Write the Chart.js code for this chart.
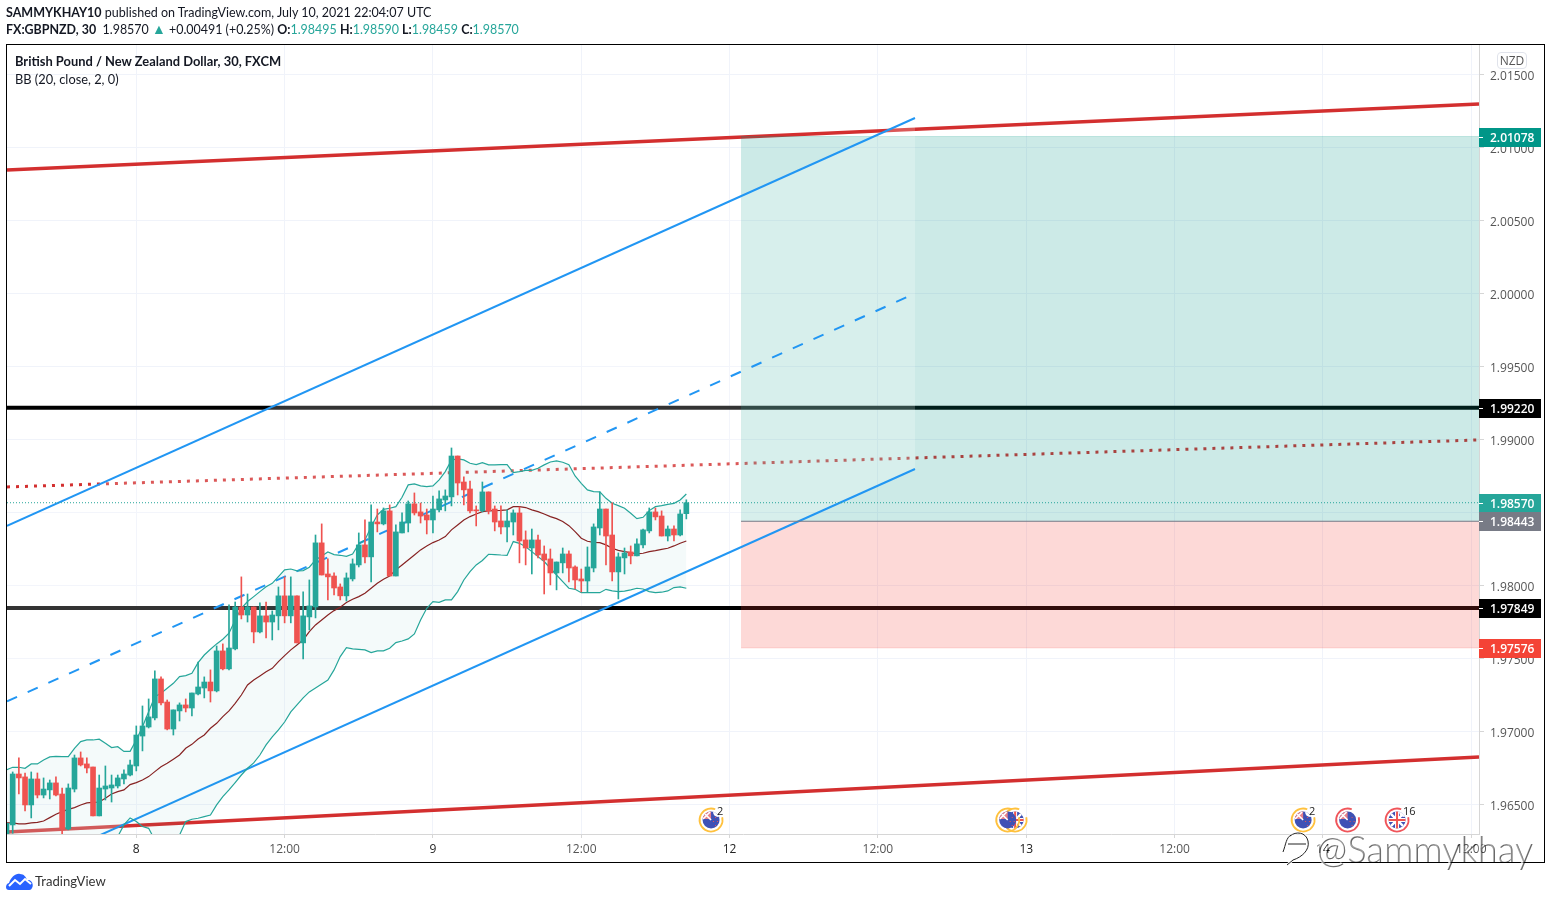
<!DOCTYPE html>
<html>
<head>
<meta charset="utf-8">
<title>GBPNZD 30</title>
<script src="https://cdn.jsdelivr.net/npm/chart.js@4/dist/chart.umd.min.js"></script>
<style>
    html, body { margin: 0; background: #fff; width: 1551px; height: 900px; overflow: hidden; }
    body { font-family: Lato, sans-serif; color: #131722; position: relative; }
    canvas { position: absolute; left: 0; top: 0; }
    .abs { position: absolute; white-space: nowrap; }
    .frame { left: 6px; top: 44px; width: 1537px; height: 817px; border: 1px solid #000; pointer-events: none; }
    .up { color: #26a69a; }
    b { font-weight: 700; }
    .nzd { left: 1497px; top: 52px; width: 28px; height: 15px; border: 1px solid #e0e3eb; border-radius: 4px; font: 12px/15px "Open Sans", sans-serif; color: #555; text-align: center; }
    .mark { left: 1316px; top: 825px; font: 300 36.4px/46px Lato, sans-serif; color: rgba(255,255,255,.35);
            text-shadow: 1px 1px 0 rgba(0,0,0,.6), -1px 0 0 rgba(255,255,255,.7); }
</style>
</head>
<body>
<canvas id="chart" width="1551" height="900"></canvas>
<div class="abs frame"></div>
<div class="abs" style="left:6px;top:5px;font-size:12.5px;line-height:16px"><b>SAMMYKHAY10</b> published on TradingView.com, July 10, 2021 22:04:07 UTC</div>
<div class="abs" style="left:6px;top:21px;font-size:12.45px;line-height:16px"><b>FX:GBPNZD, 30</b>&nbsp; 1.98570 <span class="up" style="font-size:14px">▲</span> +0.00491 (+0.25%) <b>O:</b><span class="up">1.98495</span> <b>H:</b><span class="up">1.98590</span> <b>L:</b><span class="up">1.98459</span> <b>C:</b><span class="up">1.98570</span></div>
<div class="abs" style="left:15px;top:53px;font-size:12.9px;line-height:16px;font-weight:700">British Pound / New Zealand Dollar, 30, FXCM</div>
<div class="abs" style="left:15px;top:71px;font-size:12.8px;line-height:16px">BB (20, close, 2, 0)</div>
<div class="abs nzd">NZD</div>
<div class="abs mark">@Sammykhay</div>
<svg class="abs" style="left:1280px;top:830px" width="36" height="40" viewBox="0 0 36 40" fill="none">
    <path d="M10 6 C16 1 26 2 28 11 C30 20 22 27 13 30 M3 22 C6 14 6 8 11 5 M8 14 H26 M13 30 L7 35" stroke="#fff" stroke-width="2.4"/>
    <path d="M10 6 C16 1 26 2 28 11 C30 20 22 27 13 30 M3 22 C6 14 6 8 11 5 M8 14 H26 M13 30 L7 35" stroke="#222" stroke-width="1"/>
</svg>
<svg class="abs" style="left:6px;top:873px" width="27" height="17" viewBox="0 0 27 17">
    <path d="M3 17 C-1 17 -1 11 3 10 C5 4 10 0 14 1 C18 1 20 4 21 7 C26 6 28 12 26 15 C25 17 24 17 22 17 Z" fill="#2962ff"/>
    <path d="M3 13 L9 7 L14 11 L19 6 L25 11" fill="none" stroke="#fff" stroke-width="2"/>
</svg>
<div class="abs" style="left:35px;top:873px;font-size:13.1px;line-height:16px;color:#333">TradingView</div>

<script>
// bar index 0 is the 00:00 bar of the 8th, every bar is 30 minutes
const firstBar = -21;
const opens = [
    1.96300,1.96363,1.96712,1.96692,1.96500,1.96678,1.96568,1.96603,1.96651,1.96575,
    1.96336,1.96609,1.96822,1.96781,1.96760,1.96425,1.96609,1.96616,1.96630,1.96678,
    1.96705,1.96767,1.96972,1.97034,1.97096,1.97363,1.97205,1.97020,1.97144,1.97185,
    1.97164,1.97260,1.97301,1.97342,1.97281,1.97555,1.97432,1.97569,1.97856,1.97801,
    1.97856,1.97685,1.97795,1.97753,1.97795,1.97932,1.97795,1.97932,1.97610,1.97788,
    1.97856,1.98295,1.98082,1.98068,1.97993,1.97932,1.98048,1.98144,1.98281,1.98199,
    1.98438,1.98425,1.98514,1.98068,1.98363,1.98431,1.98562,1.98507,1.98486,1.98452,
    1.98521,1.98589,1.98610,1.98890,1.98712,1.98664,1.98521,1.98514,1.98644,1.98527,
    1.98445,1.98404,1.98438,1.98500,1.98315,1.98260,1.98315,1.98219,1.98185,1.98089,
    1.98158,1.98219,1.98130,1.98048,1.98034,1.98123,1.98397,1.98527,1.98349,1.98096,
    1.98192,1.98233,1.98206,1.98281,1.98377,1.98507,1.98479,1.98342,1.98390,1.98349,1.98495
];
const highs = [
    1.96374,1.96726,1.96822,1.96719,1.96726,1.96719,1.96685,1.96671,1.96692,1.96616,
    1.96644,1.96842,1.96863,1.96822,1.96760,1.96705,1.96767,1.96705,1.96705,1.96740,
    1.96808,1.97041,1.97178,1.97226,1.97418,1.97377,1.97219,1.97151,1.97199,1.97226,
    1.97267,1.97479,1.97377,1.97425,1.97589,1.97603,1.97870,1.97890,1.98062,1.97945,
    1.97856,1.97884,1.97890,1.97829,1.97993,1.98062,1.98062,1.97932,1.97959,1.98041,
    1.98349,1.98425,1.98185,1.98089,1.98014,1.98089,1.98185,1.98363,1.98452,1.98555,
    1.98527,1.98534,1.98555,1.98418,1.98500,1.98582,1.98637,1.98568,1.98527,1.98616,
    1.98651,1.98658,1.98945,1.98890,1.98747,1.98719,1.98548,1.98712,1.98644,1.98548,
    1.98548,1.98521,1.98521,1.98541,1.98377,1.98390,1.98349,1.98274,1.98253,1.98164,
    1.98260,1.98240,1.98137,1.98116,1.98267,1.98425,1.98644,1.98527,1.98569,1.98226,
    1.98260,1.98274,1.98322,1.98390,1.98534,1.98534,1.98514,1.98411,1.98411,1.98521,1.98590
];
const lows = [
    1.96295,1.96306,1.96575,1.96459,1.96411,1.96548,1.96548,1.96541,1.96562,1.96301,
    1.96329,1.96589,1.96767,1.96719,1.96425,1.96425,1.96534,1.96520,1.96616,1.96644,
    1.96699,1.96733,1.96870,1.97027,1.97082,1.97185,1.97014,1.96979,1.97075,1.97137,
    1.97109,1.97253,1.97233,1.97205,1.97274,1.97425,1.97425,1.97562,1.97774,1.97753,
    1.97610,1.97678,1.97644,1.97630,1.97699,1.97747,1.97747,1.97610,1.97500,1.97699,
    1.97781,1.98075,1.97904,1.97938,1.97904,1.97897,1.98034,1.98130,1.98158,1.98027,
    1.98370,1.98418,1.98068,1.98068,1.98363,1.98370,1.98486,1.98431,1.98356,1.98363,
    1.98507,1.98514,1.98548,1.98623,1.98555,1.98500,1.98411,1.98507,1.98493,1.98377,
    1.98356,1.98301,1.98349,1.98158,1.98144,1.98082,1.98192,1.97945,1.98007,1.97973,
    1.98089,1.98027,1.97979,1.97959,1.97959,1.98096,1.98349,1.98144,1.98034,1.97911,
    1.98082,1.98151,1.98206,1.98260,1.98363,1.98452,1.98342,1.98308,1.98308,1.98342,1.98459
];
const closes = [
    1.96374,1.96712,1.96685,1.96500,1.96678,1.96568,1.96609,1.96651,1.96568,1.96336,
    1.96616,1.96822,1.96774,1.96753,1.96425,1.96616,1.96630,1.96637,1.96685,1.96712,
    1.96774,1.96979,1.97041,1.97103,1.97363,1.97199,1.97020,1.97151,1.97185,1.97164,
    1.97267,1.97308,1.97342,1.97281,1.97555,1.97432,1.97575,1.97856,1.97801,1.97856,
    1.97685,1.97795,1.97753,1.97801,1.97932,1.97795,1.97932,1.97610,1.97795,1.97863,
    1.98295,1.98075,1.98062,1.97986,1.97932,1.98055,1.98151,1.98281,1.98199,1.98438,
    1.98425,1.98514,1.98068,1.98370,1.98438,1.98562,1.98500,1.98479,1.98452,1.98527,
    1.98596,1.98616,1.98890,1.98705,1.98658,1.98514,1.98514,1.98644,1.98514,1.98438,
    1.98404,1.98445,1.98500,1.98308,1.98260,1.98315,1.98212,1.98178,1.98089,1.98164,
    1.98219,1.98123,1.98041,1.98034,1.98130,1.98404,1.98527,1.98342,1.98096,1.98199,
    1.98226,1.98206,1.98288,1.98384,1.98507,1.98473,1.98342,1.98390,1.98349,1.98493,1.98570
];

// BB (20, close, 2) read per bar, same start bar as the candles
const bbUpper = [
    1.96740,1.96758,1.96758,1.96751,1.96781,1.96781,1.96808,1.96829,1.96833,1.96831,
    1.96831,1.96888,1.96934,1.96945,1.96945,1.96950,1.96922,1.96893,1.96899,1.96867,
    1.96867,1.96945,1.97036,1.97139,1.97242,1.97265,1.97299,1.97333,1.97379,1.97386,
    1.97402,1.97475,1.97527,1.97566,1.97603,1.97635,1.97676,1.97767,1.97847,1.97893,
    1.97927,1.97961,1.97995,1.98018,1.98064,1.98110,1.98116,1.98103,1.98105,1.98128,
    1.98178,1.98205,1.98233,1.98215,1.98210,1.98203,1.98219,1.98288,1.98315,1.98406,
    1.98486,1.98525,1.98532,1.98543,1.98607,1.98692,1.98699,1.98685,1.98680,1.98685,
    1.98726,1.98783,1.98863,1.98870,1.98863,1.98840,1.98831,1.98845,1.98829,1.98829,
    1.98831,1.98831,1.98776,1.98783,1.98792,1.98792,1.98806,1.98829,1.98849,1.98856,
    1.98847,1.98831,1.98753,1.98703,1.98658,1.98646,1.98644,1.98600,1.98566,1.98550,
    1.98532,1.98498,1.98461,1.98470,1.98516,1.98543,1.98550,1.98559,1.98566,1.98589,1.98630
];
const bbBasis = [
    1.96377,1.96377,1.96370,1.96370,1.96377,1.96381,1.96390,1.96413,1.96436,1.96454,
    1.96470,1.96482,1.96500,1.96514,1.96518,1.96520,1.96546,1.96575,1.96591,1.96603,
    1.96639,1.96653,1.96671,1.96694,1.96728,1.96762,1.96785,1.96813,1.96842,1.96888,
    1.96915,1.96952,1.96979,1.97025,1.97059,1.97105,1.97144,1.97196,1.97253,1.97322,
    1.97356,1.97384,1.97413,1.97436,1.97482,1.97523,1.97562,1.97596,1.97630,1.97687,
    1.97733,1.97767,1.97801,1.97831,1.97854,1.97886,1.97909,1.97927,1.97950,1.97984,
    1.98018,1.98046,1.98068,1.98110,1.98144,1.98178,1.98212,1.98247,1.98274,1.98297,
    1.98315,1.98338,1.98384,1.98418,1.98452,1.98475,1.98493,1.98509,1.98514,1.98516,
    1.98518,1.98521,1.98543,1.98543,1.98537,1.98521,1.98509,1.98493,1.98475,1.98461,
    1.98441,1.98413,1.98372,1.98327,1.98306,1.98299,1.98297,1.98281,1.98258,1.98244,
    1.98235,1.98228,1.98219,1.98224,1.98235,1.98242,1.98251,1.98258,1.98274,1.98292,1.98308
];
const bbLower = [
    1.96009,1.95995,1.95982,1.95986,1.95973,1.95982,1.95975,1.95998,1.96043,1.96078,
    1.96078,1.96055,1.96043,1.96032,1.96043,1.96078,1.96123,1.96180,1.96283,1.96363,
    1.96411,1.96386,1.96352,1.96340,1.96260,1.96226,1.96215,1.96215,1.96294,1.96386,
    1.96402,1.96409,1.96420,1.96431,1.96500,1.96557,1.96603,1.96653,1.96705,1.96751,
    1.96788,1.96842,1.96911,1.96966,1.97014,1.97068,1.97137,1.97185,1.97233,1.97274,
    1.97301,1.97329,1.97356,1.97425,1.97516,1.97578,1.97569,1.97566,1.97562,1.97543,
    1.97555,1.97555,1.97573,1.97612,1.97623,1.97637,1.97671,1.97767,1.97847,1.97893,
    1.97888,1.97904,1.97904,1.97961,1.98041,1.98098,1.98144,1.98174,1.98217,1.98215,
    1.98212,1.98210,1.98304,1.98292,1.98269,1.98235,1.98201,1.98167,1.98121,1.98075,
    1.98030,1.97984,1.97977,1.97954,1.97954,1.97954,1.97954,1.97977,1.97966,1.97961,
    1.97964,1.97973,1.97984,1.97979,1.97961,1.97954,1.97957,1.97966,1.97989,1.97993,1.97984
];

// axes
const xMin = -20.92, xMax = 217.26;
const yMin = 1.96301, yMax = 2.01705;
const priceTicks = [1.965, 1.97, 1.975, 1.98, 1.985, 1.99, 1.995, 2.0, 2.005, 2.01, 2.015];
const timeTicks = [0, 24, 48, 72, 96, 120, 144, 168, 192, 216];
const timeLabels = ['8', '12:00', '9', '12:00', '12', '12:00', '13', '12:00', '14', '12:00'];

// drawn levels and trend lines, [bar, price] pairs
const channelEnd = 126;
const resistanceTop = [[xMin, 2.00849], [xMax, 2.01301]];
const supportBottom = [[xMin, 1.96315], [xMax, 1.96829]];
const midDotted = [[xMin, 1.98678], [xMax, 1.99]];
const channelUpper = [[xMin, 1.98411], [channelEnd, 2.01205]];
const channelMiddle = [[xMin, 1.97209], [channelEnd, 2.00003]];
const channelLower = [[xMin, 1.96007], [channelEnd, 1.98801]];
const levelHigh = 1.9922, levelLow = 1.97849;
const lastPrice = 1.9857;

// long position box
const boxStartBar = 97.85;
const entryPrice = 1.98443, targetPrice = 2.01078, stopPrice = 1.97576;

// price tags on the right axis
const tagPrices = [targetPrice, levelHigh, lastPrice, entryPrice, levelLow, stopPrice];
const tagColors = ['#009688', '#000000', '#26a69a', '#787b86', '#000000', '#f44336'];

// economic calendar markers
const eventBars = [93, 142.2, 141, 188.8, 196, 204];
const eventFlags = ['nz', 'gb', 'nz', 'nz', 'nz', 'gb'];
const eventRings = ['#ffc13d', '#ffc13d', '#ffc13d', '#ffc13d', '#f0555a', '#f0555a'];
const eventCounts = ['2', '', '', '2', '', '16'];

const UP = '#26a69a', DOWN = '#ef5350';
const axisFont = { family: '"Open Sans", sans-serif', size: 12 };

function toPoints(pairs) {
    return pairs.map(p => ({ x: p[0], y: p[1] }));
}

function flatLine(price, from, to) {
    return [{ x: from, y: price }, { x: to, y: price }];
}

function lineSet(data, color, width, order, extra) {
    return Object.assign({
        type: 'line', data, borderColor: color, borderWidth: width, order,
        pointRadius: 0, tension: 0, fill: false
    }, extra || {});
}

function bandSeries(values) {
    return values.map((v, i) => ({ x: firstBar + i, y: v }));
}

const barColors = closes.map((c, i) => c >= opens[i] ? UP : DOWN);

const datasets = [
    lineSet(toPoints(resistanceTop), '#d32f2f', 3.5, 100),
    lineSet(toPoints(supportBottom), '#d32f2f', 3.5, 100),
    lineSet(toPoints(midDotted), '#d32f2f', 3, 99, { borderDash: [3, 6] }),
    lineSet(flatLine(levelHigh, xMin, xMax), '#000', 4, 98),
    lineSet(flatLine(levelLow, xMin, xMax), '#000', 4, 98),
    lineSet(flatLine(targetPrice, boxStartBar, xMax), 'rgba(0,150,136,.2)', 1, 90, {
        fill: { value: entryPrice }, backgroundColor: 'rgba(0,150,136,.2)'
    }),
    lineSet(flatLine(stopPrice, boxStartBar, xMax), 'rgba(244,67,54,.2)', 1, 90, {
        fill: { value: entryPrice }, backgroundColor: 'rgba(244,67,54,.2)'
    }),
    // channel background, pale enough to let the lines below show through
    lineSet(toPoints(channelUpper), 'transparent', 0, 80, {
        fill: '+1', backgroundColor: 'rgba(255,255,255,.2)'
    }),
    lineSet(toPoints(channelLower), 'transparent', 0, 81),
    lineSet(toPoints(channelUpper), '#2196f3', 2, 70),
    lineSet(toPoints(channelMiddle), '#2196f3', 2, 70, { borderDash: [11, 11.67] }),
    lineSet(toPoints(channelLower), '#2196f3', 2, 70),
    lineSet(flatLine(entryPrice, boxStartBar, xMax), '#787b86', 1, 69),
    lineSet(flatLine(lastPrice, xMin, xMax), '#26a69a', 1, 68, { borderDash: [1, 2] }),
    lineSet(bandSeries(bbUpper), '#26a69a', 1.2, 60, {
        fill: '+2', backgroundColor: 'rgba(38,166,154,.05)'
    }),
    lineSet(bandSeries(bbBasis), '#872323', 1.2, 59),
    lineSet(bandSeries(bbLower), '#26a69a', 1.2, 61),
    {
        data: lows.map((l, i) => ({ x: firstBar + i, y: [l, highs[i]] })),
        backgroundColor: barColors, barThickness: 1, grouped: false, order: 20, minBarLength: 1
    },
    {
        data: opens.map((o, i) => ({ x: firstBar + i, y: [o, closes[i]] })),
        backgroundColor: barColors, barThickness: 5, grouped: false, order: 10, minBarLength: 1
    }
];

function drawEvent(ctx, x, y, flag, ring, count) {
    ctx.save();
    ctx.beginPath();
    ctx.arc(x, y, 11.5, -0.25, Math.PI * 2 - 1.2);
    ctx.strokeStyle = ring;
    ctx.lineWidth = 1.8;
    ctx.stroke();

    ctx.beginPath();
    ctx.arc(x, y, 8.5, 0, Math.PI * 2);
    ctx.clip();
    ctx.fillStyle = '#3f51b5';
    ctx.fillRect(x - 9, y - 9, 18, 18);
    ctx.lineCap = 'butt';
    if (flag === 'gb') {
        ctx.strokeStyle = '#fff';
        ctx.lineWidth = 2.4;
        ctx.beginPath();
        ctx.moveTo(x - 9, y - 9); ctx.lineTo(x + 9, y + 9);
        ctx.moveTo(x + 9, y - 9); ctx.lineTo(x - 9, y + 9);
        ctx.stroke();
        ctx.lineWidth = 4;
        ctx.beginPath();
        ctx.moveTo(x, y - 9); ctx.lineTo(x, y + 9);
        ctx.moveTo(x - 9, y); ctx.lineTo(x + 9, y);
        ctx.stroke();
        ctx.strokeStyle = '#ef5350';
        ctx.lineWidth = 2;
        ctx.stroke();
    } else {
        ctx.fillStyle = '#e8808a';
        ctx.fillRect(x - 9, y - 9, 9, 8);
        ctx.strokeStyle = '#fff';
        ctx.lineWidth = 1.6;
        ctx.beginPath();
        ctx.moveTo(x - 8, y - 8); ctx.lineTo(x, y);
        ctx.moveTo(x - 1, y - 8); ctx.lineTo(x - 8, y - 1);
        ctx.stroke();
        ctx.fillStyle = '#ef5350';
        [[4, -3], [2, 1], [6, 1], [4, 5]].forEach(s => ctx.fillRect(x + s[0], y + s[1], 1, 1));
    }
    if (count) {
        // notch in the disc where the count sits
        ctx.fillStyle = '#fff';
        ctx.beginPath();
        ctx.arc(x + 7, y - 8, 5, 0, Math.PI * 2);
        ctx.fill();
    }
    ctx.restore();

    if (count) {
        ctx.font = '11px "Open Sans", sans-serif';
        ctx.fillStyle = '#222';
        ctx.textAlign = 'left';
        ctx.textBaseline = 'middle';
        ctx.fillText(count, x + 6, y - 8);
    }
}

// price tags and calendar markers go on top of the axes
const overlayPlugin = {
    id: 'overlay',
    afterDraw(chart) {
        const { ctx, scales, chartArea } = chart;
        const y = scales.y, x = scales.x;

        eventBars.forEach((bar, i) => {
            drawEvent(ctx, x.getPixelForValue(bar), chartArea.bottom - 14, eventFlags[i], eventRings[i], eventCounts[i]);
        });

        ctx.save();
        tagPrices.forEach((price, i) => {
            const py = Math.round(y.getPixelForValue(price));
            ctx.fillStyle = tagColors[i];
            ctx.fillRect(chartArea.right, py - 9, 62, 19);
            ctx.fillStyle = '#fff';
            ctx.fillRect(chartArea.right, py, 4, 1);
            ctx.font = '600 12px "Open Sans", sans-serif';
            ctx.textAlign = 'left';
            ctx.textBaseline = 'middle';
            ctx.fillText(price.toFixed(5), chartArea.right + 11, py + 2);
        });
        ctx.restore();
    }
};

new Chart(document.getElementById('chart').getContext('2d'), {
    type: 'bar',
    data: { datasets },
    plugins: [overlayPlugin],
    options: {
        responsive: false,
        animation: false,
        events: [],
        layout: { padding: { left: 7, top: 45, right: 7, bottom: 38 } },
        plugins: { legend: { display: false }, tooltip: { enabled: false } },
        scales: {
            x: {
                type: 'linear',
                min: xMin,
                max: xMax,
                offset: false,
                afterBuildTicks: s => { s.ticks = timeTicks.map(v => ({ value: v })); },
                afterFit: s => { s.height = 28; },
                grid: { offset: false, color: '#f0f3fa', tickColor: '#d6d6d6', tickLength: 4 },
                border: { color: '#d6d6d6' },
                ticks: {
                    autoSkip: false,
                    maxRotation: 0,
                    padding: 4,
                    font: axisFont,
                    color: c => timeLabels[c.index].length < 3 ? '#222' : '#555',
                    callback: v => timeLabels[timeTicks.indexOf(v)]
                }
            },
            y: {
                position: 'right',
                min: yMin,
                max: yMax,
                afterBuildTicks: s => { s.ticks = priceTicks.map(v => ({ value: v })); },
                afterFit: s => { s.width = 65; },
                grid: { color: '#f0f3fa', tickColor: '#d6d6d6', tickLength: 5 },
                border: { color: '#d6d6d6' },
                ticks: {
                    padding: 6,
                    labelOffset: 2,
                    font: axisFont,
                    color: '#555',
                    callback: v => v.toFixed(5)
                }
            }
        }
    }
});
</script>
</body>
</html>
